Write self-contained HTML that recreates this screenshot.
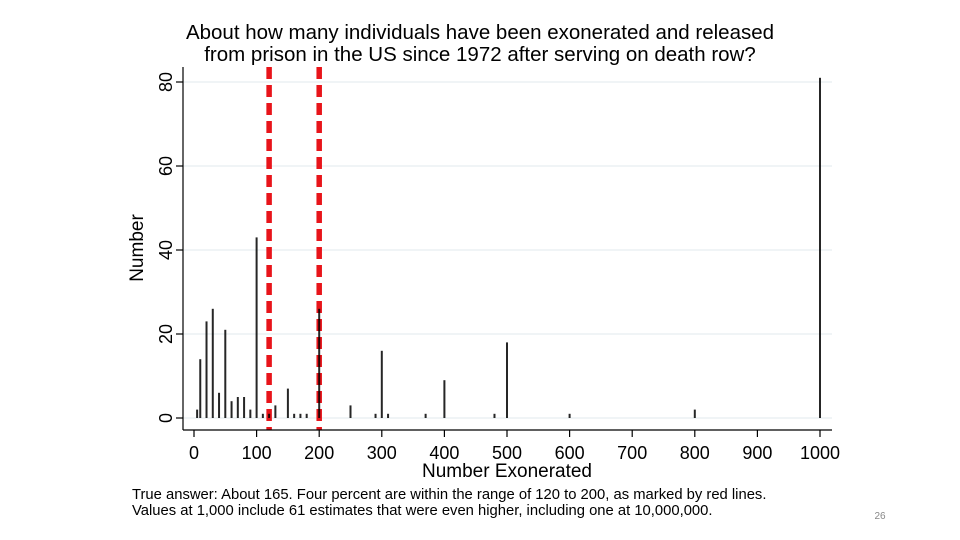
<!DOCTYPE html>
<html><head><meta charset="utf-8"><style>
body{margin:0;background:#fff;width:960px;height:540px;overflow:hidden;font-family:"Liberation Sans",Arial,sans-serif}
svg{display:block}
</style></head><body>
<svg id="chart" width="960" height="540" font-family="Liberation Sans, Arial, sans-serif">
<rect x="0" y="0" width="960" height="540" fill="#fff"/>
<text x="480" y="39" text-anchor="middle" font-size="20.5" fill="#000">About how many individuals have been exonerated and released</text>
<text x="480" y="61" text-anchor="middle" font-size="20.5" fill="#000">from prison in the US since 1972 after serving on death row?</text>
<g id="grid"></g>
<g id="refs"></g>
<g id="bars"></g>
<g id="axes"></g>
<text x="143" y="248" text-anchor="middle" font-size="19" transform="rotate(-90 143 248)">Number</text>
<text x="507" y="477" text-anchor="middle" font-size="19">Number Exonerated</text>
<text x="132" y="499" font-size="14.8">True answer: About 165. Four percent are within the range of 120 to 200, as marked by red lines.</text>
<text x="132" y="515" font-size="14.8">Values at 1,000 include 61 estimates that were even higher, including one at 10,000,000.</text>
<text x="880" y="519" text-anchor="middle" font-size="10" fill="#888">26</text>
</svg>
<script>
const xValues=[5,10,20,30,40,50,60,70,80,90,100,110,120,130,150,160,170,180,200,250,290,300,310,370,400,480,500,600,800,1000];
const counts=[2,14,23,26,6,21,4,5,5,2,43,1,1,3,7,1,1,1,26,3,1,16,1,1,9,1,18,1,2,81];
const xTicks=[0,100,200,300,400,500,600,700,800,900,1000];
const yTicks=[0,20,40,60,80];
const refLines=[120,200];
const NS="http://www.w3.org/2000/svg";
function xs(v){return 194+v*0.626;}
function ys(v){return 418-v*4.2;}
function mk(tag,attrs,parent){const e=document.createElementNS(NS,tag);for(const k in attrs)e.setAttribute(k,attrs[k]);parent.appendChild(e);return e;}
const grid=document.getElementById('grid'),bars=document.getElementById('bars'),refs=document.getElementById('refs'),axes=document.getElementById('axes');
yTicks.forEach(t=>{
  const g=mk('line',{x1:183,x2:832,y1:ys(t),y2:ys(t),stroke:'#e8eef0','stroke-width':1.2},grid);
  
  
  const tk=mk('line',{x1:176,x2:183,y1:ys(t),y2:ys(t),stroke:'#000','stroke-width':1.2},axes);
  
  
  const lb=mk('text',{x:167,y:ys(t),'text-anchor':'middle','font-size':18,transform:`rotate(-90 167 ${ys(t)})`,'dominant-baseline':'middle'},axes);
  lb.textContent=t;
  
  
});
refLines.forEach(v=>{
  const l=mk('line',{x1:xs(v),x2:xs(v),y1:67,y2:430,stroke:'#e8141a','stroke-width':5.5,'stroke-dasharray':'12 6'},refs);
  
  
});
xValues.forEach((v,i)=>{
  const b=mk('rect',{x:xs(v)-1,y:ys(counts[i]),width:2,height:ys(0)-ys(counts[i]),fill:'#000','fill-opacity':0.85},bars);
  
  
});
const ya=mk('line',{x1:183,x2:183,y1:67,y2:430,stroke:'#000','stroke-width':1.2},axes);


const xa=mk('line',{x1:183,x2:832,y1:430,y2:430,stroke:'#000','stroke-width':1.2},axes);


xTicks.forEach(t=>{
  const tk=mk('line',{x1:xs(t),x2:xs(t),y1:430,y2:437,stroke:'#000','stroke-width':1.2},axes);
  
  
  const lb=mk('text',{x:xs(t),y:459,'text-anchor':'middle','font-size':18},axes);
  lb.textContent=t;
  
  
});
</script>
</body></html>
